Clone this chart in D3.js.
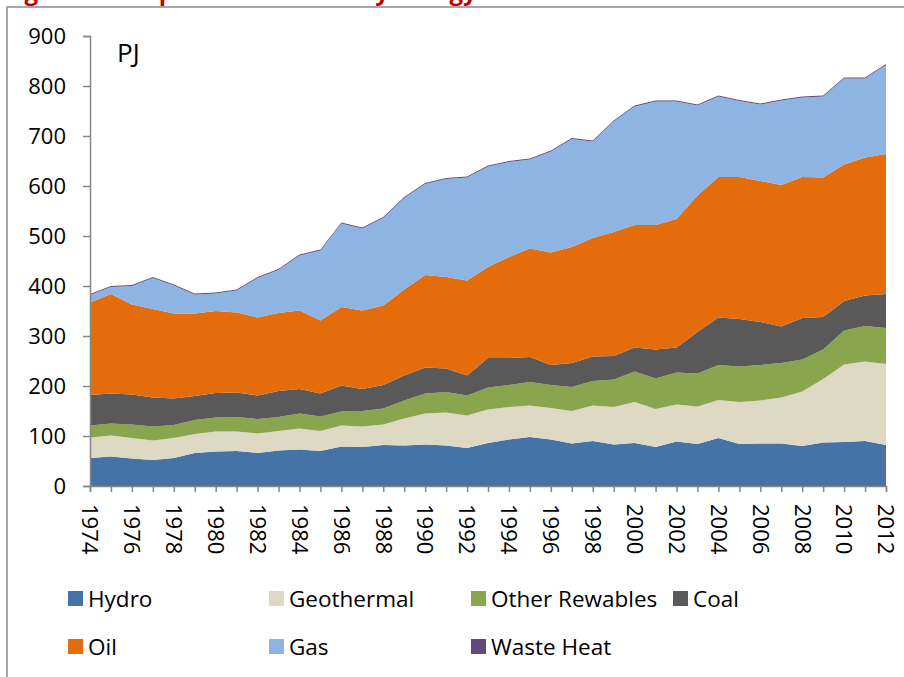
<!DOCTYPE html>
<html>
<head>
<meta charset="utf-8">
<script src="https://cdn.jsdelivr.net/npm/d3@7"></script>
<style>
  body { margin: 0; background: #fff; }
  svg { display: block; font-family: "Open Sans", sans-serif; }
</style>
</head>
<body>
<div id="chart"></div>
<script>
// years on the x axis
const years = [1974, 1975, 1976, 1977, 1978, 1979, 1980, 1981, 1982, 1983,
  1984, 1985, 1986, 1987, 1988, 1989, 1990, 1991, 1992, 1993,
  1994, 1995, 1996, 1997, 1998, 1999, 2000, 2001, 2002, 2003,
  2004, 2005, 2006, 2007, 2008, 2009, 2010, 2011, 2012];

// PJ per source
const hydro = [56, 59, 55, 52, 56, 66, 69, 70, 66, 71, 73, 70, 79, 78, 82, 81, 83, 81, 76, 86,
  93, 98, 93, 85, 90, 83, 86, 78, 89, 84, 96, 84, 85, 85, 80, 87, 88, 90, 82];
const geothermal = [41, 42, 41, 39, 40, 38, 40, 39, 39, 39, 42, 40, 42, 41, 41, 54, 62, 66, 65, 67,
  65, 63, 63, 65, 71, 75, 82, 76, 74, 75, 76, 84, 86, 92, 109, 127, 155, 159, 162];
const otherRenewables = [24, 24, 27, 28, 26, 28, 28, 29, 29, 28, 30, 29, 28, 31, 32, 36, 40, 41, 40, 44,
  44, 47, 46, 48, 49, 55, 61, 61, 64, 66, 70, 71, 71, 69, 64, 59, 68, 71, 72];
const coal = [61, 60, 60, 58, 53, 48, 49, 49, 47, 52, 49, 46, 52, 44, 47, 50, 52, 47, 40, 59,
  54, 50, 40, 48, 49, 47, 48, 58, 50, 83, 95, 95, 86, 73, 83, 65, 59, 61, 68];
const oil = [185, 199, 180, 177, 170, 165, 164, 160, 156, 156, 157, 146, 157, 157, 159, 172, 185, 183, 190, 182,
  202, 217, 225, 232, 237, 248, 245, 249, 257, 273, 281, 284, 282, 283, 282, 279, 273, 276, 280];
const gas = [15, 14, 37, 62, 56, 38, 35, 44, 79, 86, 110, 140, 167, 164, 175, 183, 182, 196, 206, 201,
  190, 178, 202, 216, 193, 221, 237, 247, 235, 180, 161, 152, 153, 169, 159, 162, 172, 158, 178];
const wasteHeat = [2, 2, 2, 2, 2, 2, 2, 2, 2, 2, 2, 2, 2, 2, 2, 2, 2, 2, 2, 2,
  2, 2, 2, 2, 2, 2, 2, 2, 2, 2, 2, 2, 2, 2, 2, 2, 2, 2, 2];

const seriesNames = ["Hydro", "Geothermal", "Other Rewables", "Coal", "Oil", "Gas", "Waste Heat"];
const seriesValues = [hydro, geothermal, otherRenewables, coal, oil, gas, wasteHeat];
const colors = ["#4572a7", "#ddd9c3", "#89a54e", "#595959", "#e46c0a", "#8db4e2", "#604a7b"];

const yTicks = [0, 100, 200, 300, 400, 500, 600, 700, 800, 900];
const xLabelYears = [1974, 1976, 1978, 1980, 1982, 1984, 1986, 1988, 1990, 1992,
  1994, 1996, 1998, 2000, 2002, 2004, 2006, 2008, 2010, 2012];

const width = 904, height = 677;
const plot = { left: 90, right: 886, top: 36, bottom: 486 };

const svg = d3.select("#chart").append("svg")
  .attr("width", width)
  .attr("height", height);

// title of the figure, cut off at the top of the picture
svg.append("text")
  .attr("x", 4)
  .attr("y", 0)
  .attr("fill", "#c00000")
  .attr("font-weight", "bold")
  .attr("font-size", 24)
  .text("Figure 1 Composition of Primary Energy Mix");

// frame around the chart
svg.append("rect")
  .attr("x", 7)
  .attr("y", 7)
  .attr("width", width + 20)
  .attr("height", height + 20)
  .attr("fill", "none")
  .attr("stroke", "#8c8c8c")
  .attr("stroke-width", 1.5);

const x = d3.scaleLinear().domain([years[0], years[years.length - 1]]).range([plot.left, plot.right]);
const y = d3.scaleLinear().domain([0, 900]).range([plot.bottom, plot.top]);

// one row per year
const rows = years.map((yr, i) => {
  const row = { year: yr };
  seriesNames.forEach((name, k) => { row[name] = seriesValues[k][i]; });
  return row;
});

const stacked = d3.stack().keys(seriesNames)(rows);

const area = d3.area()
  .x(d => x(d.data.year))
  .y0(d => y(d[0]))
  .y1(d => y(d[1]));

svg.append("g")
  .selectAll("path")
  .data(stacked)
  .join("path")
  .attr("d", area)
  .attr("fill", (d, i) => colors[i]);

// y axis
const yAxis = svg.append("g")
  .attr("transform", `translate(${plot.left},0)`)
  .call(d3.axisLeft(y).tickValues(yTicks).tickSize(7).tickPadding(17).tickFormat(d3.format("d")));
yAxis.select(".domain").attr("stroke", "#868686").attr("stroke-width", 1.5);
yAxis.selectAll(".tick line").attr("stroke", "#868686").attr("stroke-width", 1.5);
yAxis.selectAll(".tick text").attr("font-size", 22).attr("fill", "#000")
  .attr("font-family", "Open Sans, sans-serif");

// x axis: a tick every year, a label every other year
const xAxis = svg.append("g")
  .attr("transform", `translate(0,${plot.bottom})`)
  .call(d3.axisBottom(x).tickValues(years).tickSize(6).tickFormat(""));
xAxis.select(".domain").attr("stroke", "#868686").attr("stroke-width", 1.5);
xAxis.selectAll(".tick line").attr("stroke", "#868686").attr("stroke-width", 1.5);

svg.append("g")
  .selectAll("text")
  .data(xLabelYears)
  .join("text")
  .attr("transform", d => `translate(${x(d)},${plot.bottom + 18}) rotate(90)`)
  .attr("dy", "0.35em")
  .attr("font-size", 22)
  .attr("fill", "#000")
  .text(d => d);

// unit label
svg.append("text")
  .attr("x", 117)
  .attr("y", 62)
  .attr("font-size", 26)
  .attr("fill", "#000")
  .text("PJ");

// legend, two rows
const legendPos = [
  { x: 68, y: 591 }, { x: 269, y: 591 }, { x: 471, y: 591 }, { x: 673, y: 591 },
  { x: 68, y: 639 }, { x: 269, y: 639 }, { x: 471, y: 639 }
];

const legend = svg.append("g")
  .selectAll("g")
  .data(seriesNames)
  .join("g")
  .attr("transform", (d, i) => `translate(${legendPos[i].x},${legendPos[i].y})`);

legend.append("rect")
  .attr("width", 15)
  .attr("height", 15)
  .attr("fill", (d, i) => colors[i]);

legend.append("text")
  .attr("x", 20)
  .attr("y", 8)
  .attr("dy", "0.35em")
  .attr("font-size", 22.5)
  .attr("fill", "#000")
  .text(d => d);
</script>
</body>
</html>
